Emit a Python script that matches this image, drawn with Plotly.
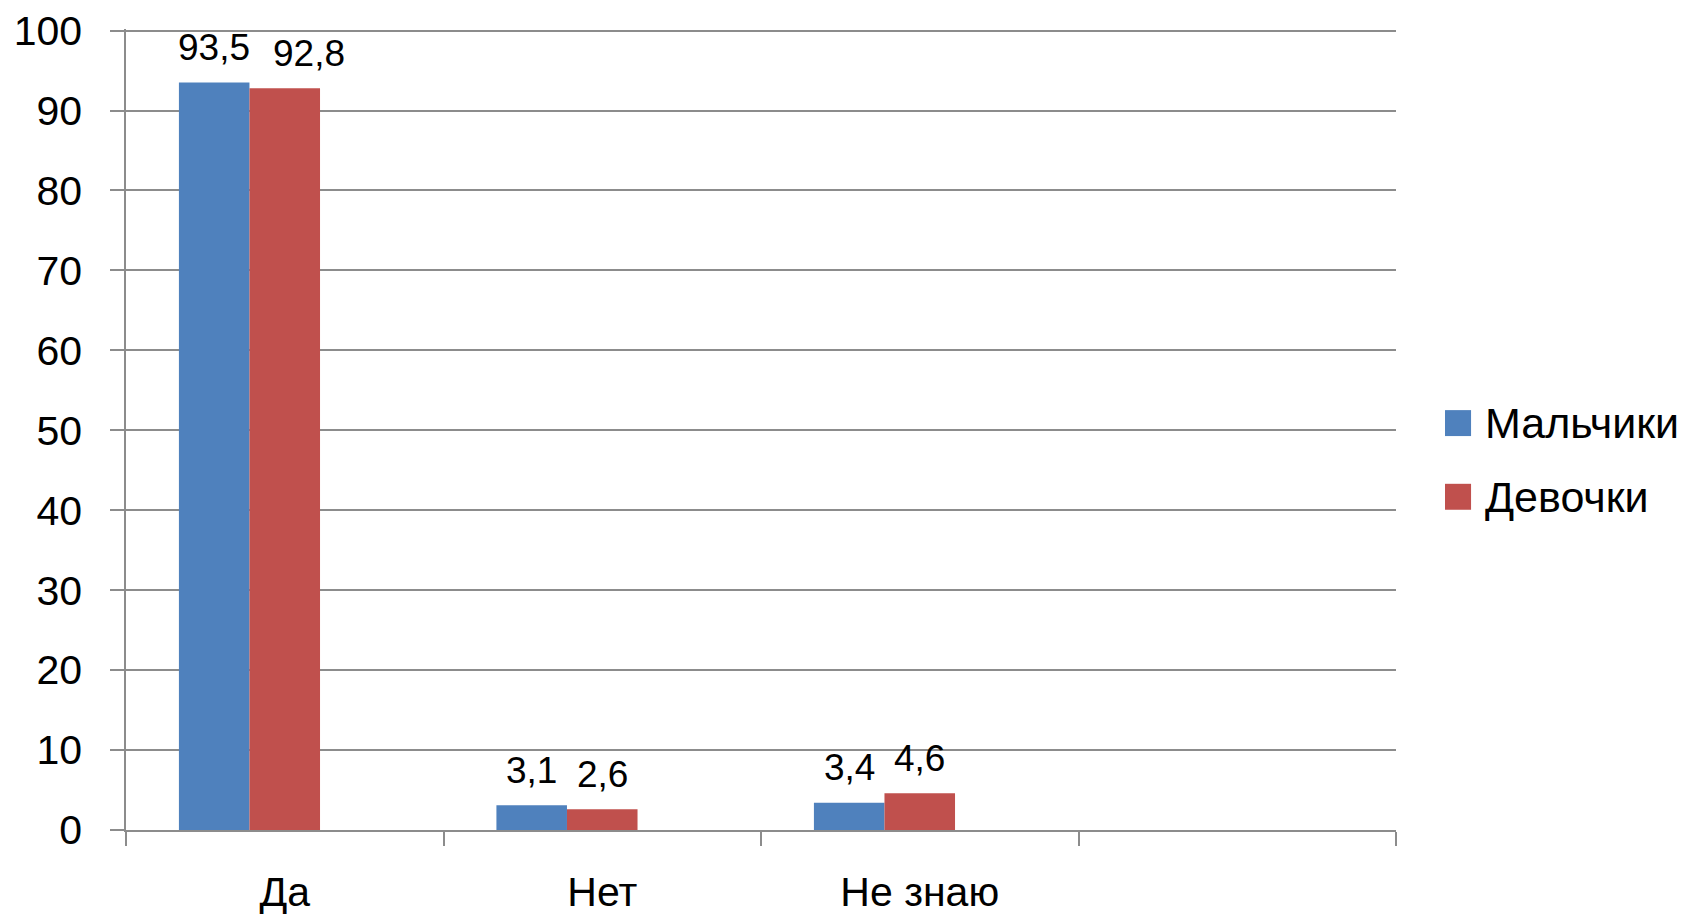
import plotly.graph_objects as go

categories = ["Да", "Нет", "Не знаю", " "]
boys = [93.5, 3.1, 3.4, None]
girls = [92.8, 2.6, 4.6, None]
series_names = ["Мальчики", "Девочки"]
series_colors = ["#4F81BD", "#C0504D"]
y_ticks = list(range(0, 101, 10))
# horizontal nudge (px) of data labels that would otherwise collide
label_nudge = [[0, 0, 0, 0], [24, 0, 0, 0]]

FONT = "Liberation Sans, Arial, sans-serif"
GRID = "#8C8C8C"

# Excel layout: 3 series slots per category, gap width 150%
bar_w = 1 / 4.5
offsets = [-1.5 * bar_w, -0.5 * bar_w]

fig = go.Figure()
annotations = []
for name, vals, color, off, nudge in zip(series_names, [boys, girls], series_colors, offsets, label_nudge):
    fig.add_trace(go.Bar(
        x=categories, y=vals, name=name,
        marker=dict(color=color, line=dict(width=0)),
        width=bar_w, offset=off, showlegend=False,
    ))
    for i, v in enumerate(vals):
        if v is None:
            continue
        annotations.append(dict(
            x=i + off + bar_w / 2, y=v, xref="x", yref="y",
            text=f"{v:.1f}".replace(".", ","), showarrow=False,
            yanchor="middle", yshift=35, xshift=nudge[i],
            font=dict(family=FONT, size=37, color="#000000"),
        ))

# custom legend (large square swatches like the original)
leg_y = [0.508, 0.416]
shapes = []
for name, color, yy in zip(series_names, series_colors, leg_y):
    shapes.append(dict(type="rect", xref="paper", yref="paper",
                       x0=1.0386, x1=1.0591, y0=yy - 0.0162, y1=yy + 0.0162,
                       fillcolor=color, line=dict(width=0)))
    annotations.append(dict(x=1.0685, y=yy, xref="paper", yref="paper",
                            text=name, showarrow=False, xanchor="left", yanchor="middle",
                            font=dict(family=FONT, size=43, color="#000000")))

fig.update_layout(
    width=1696, height=914,
    margin=dict(l=118, r=308, t=21, b=92, autoexpand=False),
    paper_bgcolor="white", plot_bgcolor="white",
    barmode="group", bargap=1/3, bargroupgap=0,
    separators=", ",
    annotations=annotations, shapes=shapes,
    showlegend=False,
    xaxis=dict(
        type="category", categoryorder="array", categoryarray=categories,
        range=[-0.5, 3.5], automargin=False,
        tickson="boundaries", ticks="outside", ticklen=14, tickcolor=GRID, tickwidth=1.5,
        showline=True, linecolor=GRID, linewidth=1.5,
        showgrid=False, zeroline=False,
        tickfont=dict(family=FONT, size=41, color="#000000"),
        ticklabelstandoff=25, ticklabeloverflow="allow",
    ),
    yaxis=dict(
        range=[0, 100.2], tickvals=y_ticks, automargin=False,
        ticks="outside", ticklen=14, tickcolor=GRID, tickwidth=1.5,
        showline=True, linecolor=GRID, linewidth=1.5,
        showgrid=True, gridcolor=GRID, gridwidth=1.5,
        zeroline=False,
        tickfont=dict(family=FONT, size=41, color="#000000"),
        ticklabelstandoff=20, ticklabeloverflow="allow",
    ),
)

fig.write_html("out.html")
